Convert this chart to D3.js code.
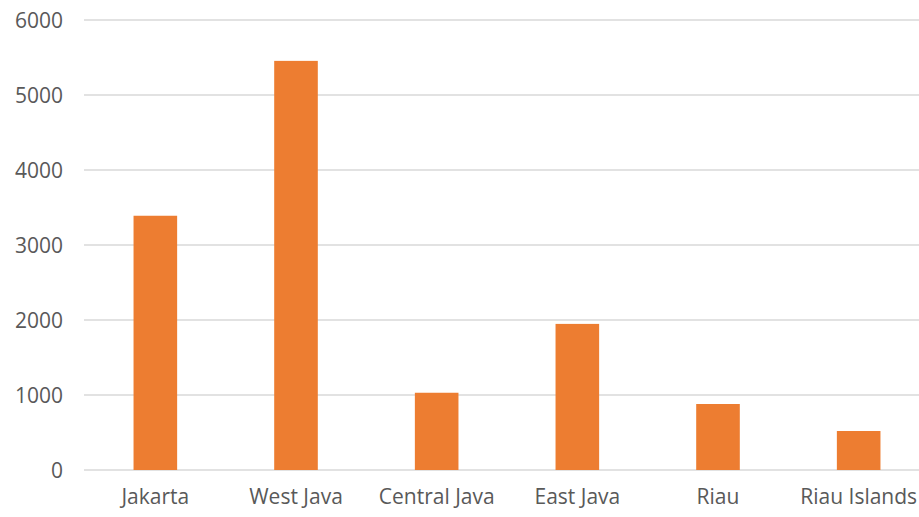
<!DOCTYPE html>
<html>
<head>
<meta charset="utf-8">
<script src="https://cdn.jsdelivr.net/npm/d3@7"></script>
<style>
  body { margin: 0; background: #fff; }
  svg { display: block; }
  text { font-family: "Open Sans", sans-serif; fill: #595959; }
</style>
</head>
<body>
<svg id="chart" width="919" height="517"></svg>
<script>
// chart data
let regions = ['Jakarta', 'West Java', 'Central Java', 'East Java', 'Riau', 'Riau Islands']
let counts = [3390, 5455, 1030, 1948, 880, 520]
let yTicks = [0, 1000, 2000, 3000, 4000, 5000, 6000]

let svg = d3.select('#chart')

let x = d3.scaleBand()
    .domain(regions)
    .range([85, 929])
    .paddingInner(0.69)
    .paddingOuter(0.345)

let y = d3.scaleLinear()
    .domain([0, 6000])
    .range([470, 20])

// gridlines
svg.append('g')
    .selectAll('line')
    .data(yTicks)
    .enter()
    .append('line')
    .attr('x1', 84)
    .attr('x2', 919)
    .attr('y1', (d) => y(d))
    .attr('y2', (d) => y(d))
    .attr('stroke', '#d9d9d9')
    .attr('stroke-width', 1.3)

// y axis labels
let yAxis = d3.axisLeft(y).tickValues(yTicks).tickFormat(d3.format('d')).tickSize(0).tickPadding(0)
let yg = svg.append('g')
    .attr('transform', 'translate(63,0)')
    .call(yAxis)
yg.select('.domain').remove()
yg.selectAll('text')
    .style('font-size', '21px')
    .attr('dy', '0.35em')

// bars
svg.append('g')
    .selectAll('rect')
    .data(regions)
    .enter()
    .append('rect')
    .attr('x', (d) => x(d))
    .attr('width', x.bandwidth())
    .attr('y', (d, i) => y(counts[i]))
    .attr('height', (d, i) => y(0) - y(counts[i]))
    .attr('fill', '#ed7d31')

// category labels
let xAxis = d3.axisBottom(x).tickSize(0).tickPadding(0)
let xg = svg.append('g')
    .attr('transform', 'translate(0,489)')
    .call(xAxis)
xg.select('.domain').remove()
xg.selectAll('text')
    .style('font-size', '21px')
    .attr('dy', '0.71em')
</script>
</body>
</html>
